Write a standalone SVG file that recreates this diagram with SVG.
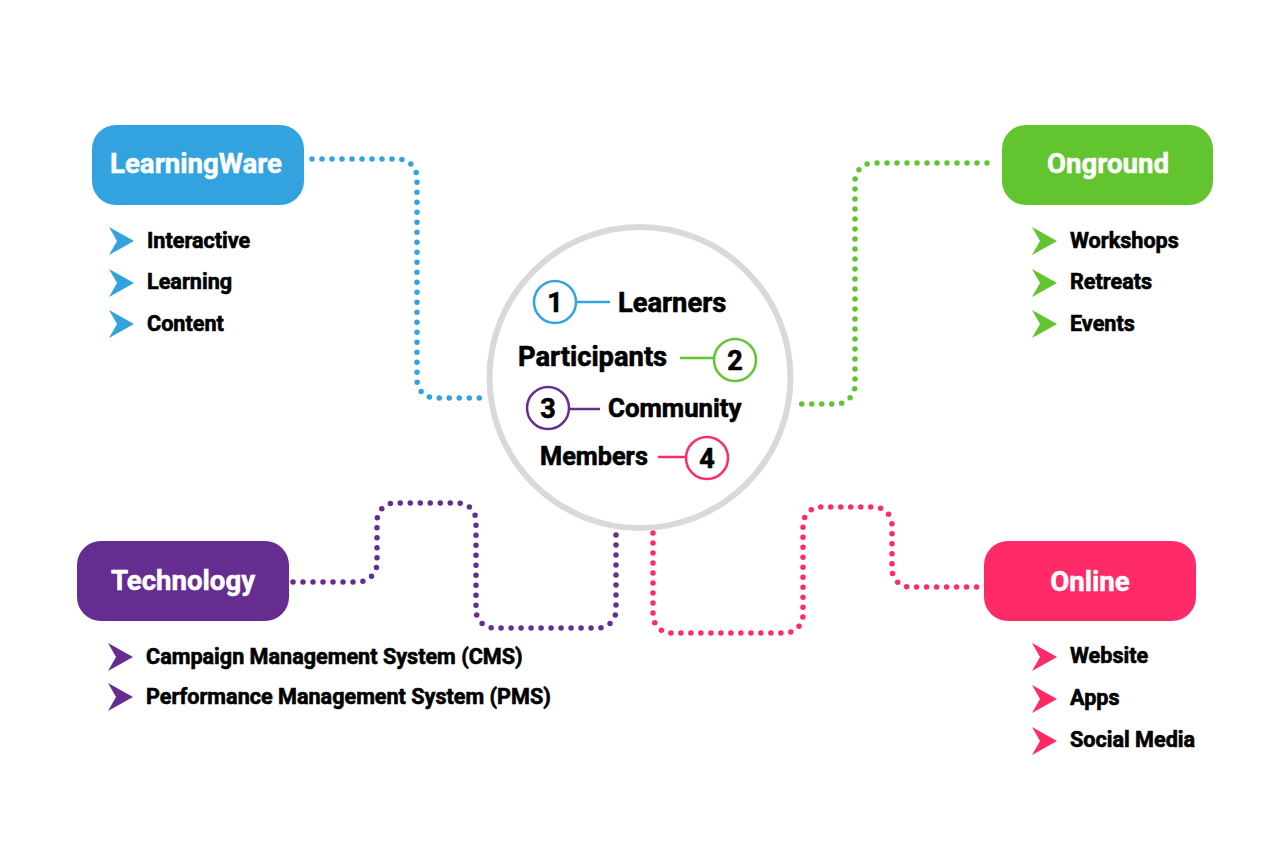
<svg xmlns="http://www.w3.org/2000/svg" width="1280" height="859" viewBox="0 0 1280 859">
<defs>
<style>
.box-label{font-family:Roboto,"Liberation Sans",sans-serif;font-weight:700;font-size:27.6px;fill:#fff;stroke:#fff;stroke-width:0.5;text-anchor:middle}
.item{font-family:Roboto,"Liberation Sans",sans-serif;font-weight:700;font-size:21.6px;fill:#000;stroke:#000;stroke-width:0.6}
.center-label{font-family:Roboto,"Liberation Sans",sans-serif;font-weight:700;font-size:27.3px;fill:#000;stroke:#000;stroke-width:0.6}
.num{font-family:Roboto,"Liberation Sans",sans-serif;font-weight:700;font-size:27px;fill:#000;stroke:#000;stroke-width:0.6;text-anchor:middle}
.dots{fill:none;stroke-width:5.5;stroke-linecap:round;stroke-dasharray:0 10}
.blue{fill:#33a3e0}.green{fill:#62c42f}.purple{fill:#662d91}.pink{fill:#ff2a67}
.s-blue{stroke:#33a3e0}.s-green{stroke:#62c42f}.s-purple{stroke:#662d91}.s-pink{stroke:#ff2a67}
.ring{fill:#fff;stroke-width:2.5}
</style>
<path id="chev" d="M0 0 L25 14 L0 28 L8 14 Z"/>
</defs>
<rect width="1280" height="859" fill="#fff"/>

<g id="connectors">
<path class="dots s-blue" d="M312 159 H398 A19 19 0 0 1 417 178 V380 A18 18 0 0 0 435 398 H486"/>
<path class="dots s-green" d="M987 163 H873 A18 18 0 0 0 855 181 V385 A19 19 0 0 1 836 404 H793"/>
<path class="dots s-purple" d="M293 582 H358 A19 19 0 0 0 377 563 V521 A18 18 0 0 1 395 503 H458 A18 18 0 0 1 476 521 V610 A18 18 0 0 0 494 628 H598 A18 18 0 0 0 616 610 V533"/>
<path class="dots s-pink" d="M653 533 V615 A18 18 0 0 0 671 633 H785 A18 18 0 0 0 803 615 V525 A18 18 0 0 1 821 507 H874 A18 18 0 0 1 892 525 V569 A18 18 0 0 0 910 587 H978"/>
</g>

<g id="center">
<circle cx="640" cy="377.5" r="150.5" fill="#fff" stroke="#d9d9d9" stroke-width="6"/>
<line x1="577" y1="302" x2="610" y2="302" stroke="#33a3e0" stroke-width="2.5"/>
<circle class="ring s-blue" cx="555" cy="302" r="21"/>
<text class="num" x="555" y="312">1</text>
<text class="center-label" x="618" y="312">Learners</text>
<line x1="680" y1="358" x2="713" y2="358" stroke="#62c42f" stroke-width="2.5"/>
<circle class="ring s-green" cx="735" cy="360" r="21"/>
<text class="num" x="735" y="370">2</text>
<text class="center-label" x="518" y="366">Participants</text>
<line x1="568" y1="409" x2="600" y2="409" stroke="#662d91" stroke-width="2.5"/>
<circle class="ring s-purple" cx="548" cy="408" r="21"/>
<text class="num" x="548" y="418">3</text>
<text class="center-label" x="608" y="417" style="font-size:25.8px">Community</text>
<line x1="658" y1="457" x2="686" y2="457" stroke="#ff2a67" stroke-width="2.5"/>
<circle class="ring s-pink" cx="707" cy="458" r="21"/>
<text class="num" x="707" y="468">4</text>
<text class="center-label" x="540" y="465" style="font-size:25.3px">Members</text>
</g>

<g id="learningware">
<rect class="blue" x="92" y="125" width="212" height="80" rx="24"/>
<text class="box-label" x="196" y="173">LearningWare</text>
<use href="#chev" class="blue" x="109" y="227"/>
<text class="item" x="147" y="248">Interactive</text>
<use href="#chev" class="blue" x="109" y="269"/>
<text class="item" x="147" y="289">Learning</text>
<use href="#chev" class="blue" x="109" y="310"/>
<text class="item" x="147" y="331">Content</text>
</g>

<g id="onground">
<rect class="green" x="1002" y="125" width="211" height="80" rx="24"/>
<text class="box-label" x="1108" y="173">Onground</text>
<use href="#chev" class="green" x="1032" y="227"/>
<text class="item" x="1070" y="248">Workshops</text>
<use href="#chev" class="green" x="1032" y="269"/>
<text class="item" x="1070" y="289">Retreats</text>
<use href="#chev" class="green" x="1032" y="310"/>
<text class="item" x="1070" y="331">Events</text>
</g>

<g id="technology">
<rect class="purple" x="77" y="541" width="212" height="80" rx="24"/>
<text class="box-label" x="183" y="590">Technology</text>
<use href="#chev" class="purple" x="108" y="643"/>
<text class="item" x="146" y="664">Campaign Management System (CMS)</text>
<use href="#chev" class="purple" x="108" y="683"/>
<text class="item" x="146" y="704">Performance Management System (PMS)</text>
</g>

<g id="online">
<rect class="pink" x="984" y="541" width="212" height="80" rx="24"/>
<text class="box-label" x="1090" y="591">Online</text>
<use href="#chev" class="pink" x="1032" y="643"/>
<text class="item" x="1070" y="663">Website</text>
<use href="#chev" class="pink" x="1032" y="685"/>
<text class="item" x="1070" y="705">Apps</text>
<use href="#chev" class="pink" x="1032" y="727"/>
<text class="item" x="1070" y="747">Social Media</text>
</g>
</svg>
